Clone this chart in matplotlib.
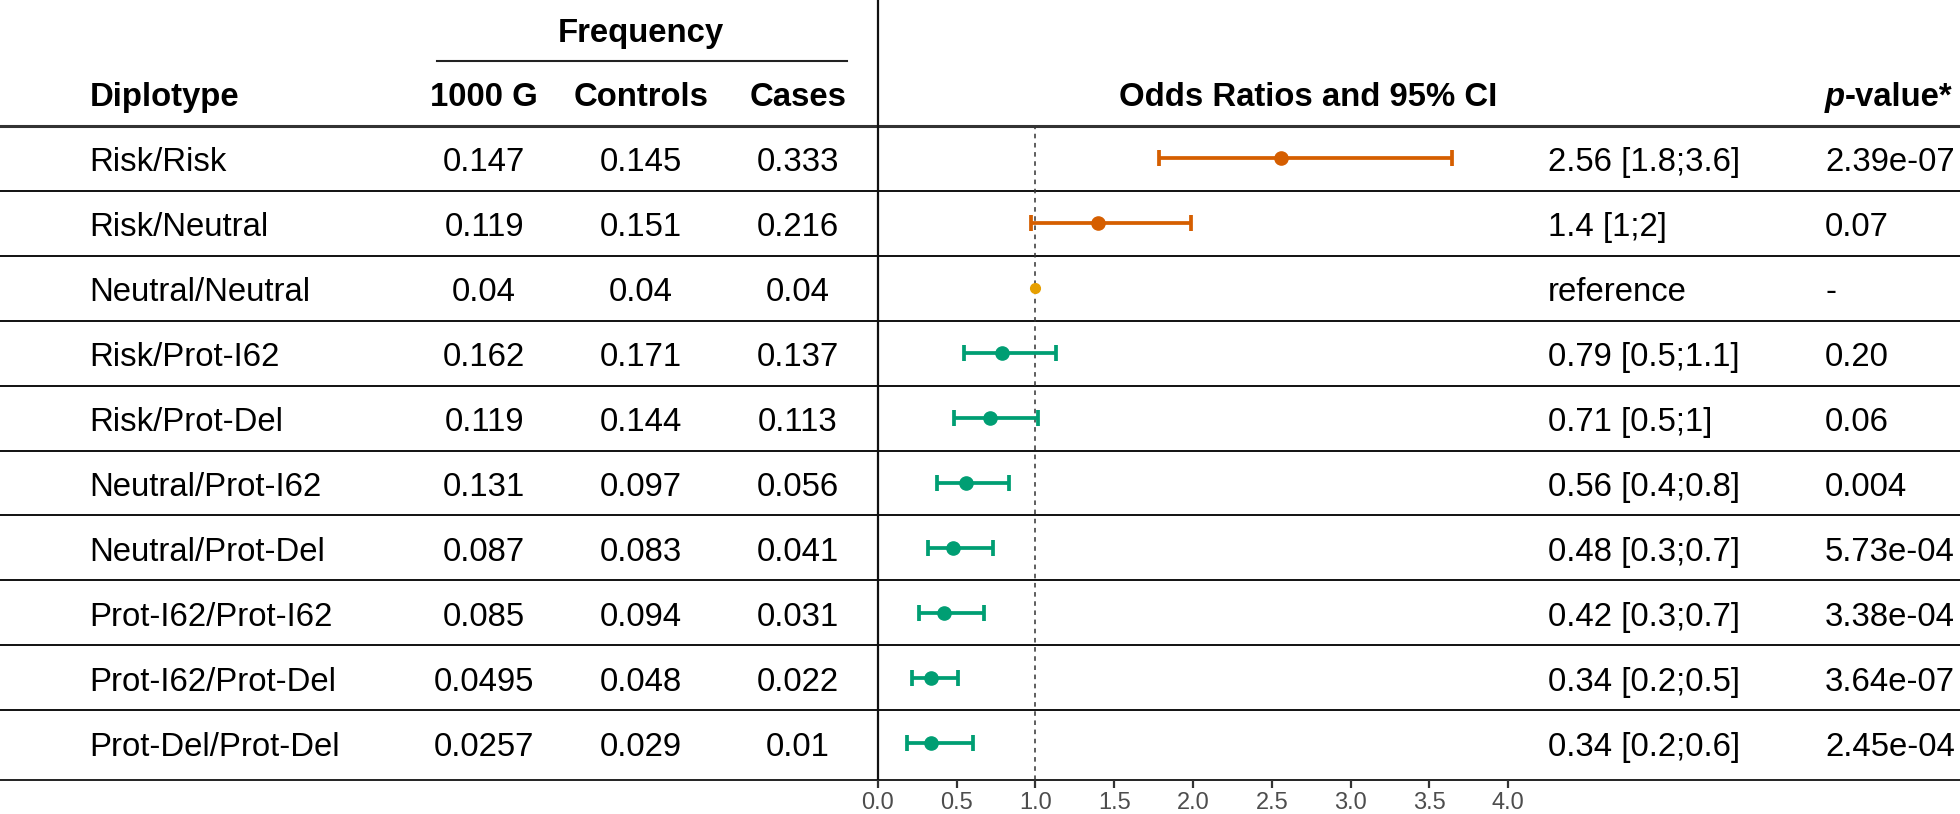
import numpy as np
import matplotlib
matplotlib.use("Agg")
import matplotlib.pyplot as plt
from matplotlib import font_manager

plt.rcParams["font.family"] = ["Liberation Sans", "DejaVu Sans"]

diplotypes = ["Risk/Risk", "Risk/Neutral", "Neutral/Neutral", "Risk/Prot-I62", "Risk/Prot-Del",
              "Neutral/Prot-I62", "Neutral/Prot-Del", "Prot-I62/Prot-I62", "Prot-I62/Prot-Del",
              "Prot-Del/Prot-Del"]
freq_1000g    = [0.147, 0.119, 0.04, 0.162, 0.119, 0.131, 0.087, 0.085, 0.0495, 0.0257]
freq_controls = [0.145, 0.151, 0.04, 0.171, 0.144, 0.097, 0.083, 0.094, 0.048, 0.029]
freq_cases    = [0.333, 0.216, 0.04, 0.137, 0.113, 0.056, 0.041, 0.031, 0.022, 0.01]
odds    = [2.56, 1.4, 1.0, 0.79, 0.71, 0.56, 0.48, 0.42, 0.34, 0.34]
ci_low  = [1.785, 0.972, 1.0, 0.547, 0.484, 0.374, 0.319, 0.26, 0.219, 0.188]
ci_high = [3.645, 1.99, 1.0, 1.129, 1.017, 0.831, 0.733, 0.674, 0.511, 0.607]
or_labels = ["2.56 [1.8;3.6]", "1.4 [1;2]", "reference", "0.79 [0.5;1.1]", "0.71 [0.5;1]",
             "0.56 [0.4;0.8]", "0.48 [0.3;0.7]", "0.42 [0.3;0.7]", "0.34 [0.2;0.5]", "0.34 [0.2;0.6]"]
p_values = ["2.39e-07", "0.07", "-", "0.20", "0.06", "0.004", "5.73e-04", "3.38e-04",
            "3.64e-07", "2.45e-04"]
groups = ["risk", "risk", "ref", "prot", "prot", "prot", "prot", "prot", "prot", "prot"]
colors = {"risk": "#D55E00", "ref": "#E69F00", "prot": "#009E73"}
x_ticks = [0.0, 0.5, 1.0, 1.5, 2.0, 2.5, 3.0, 3.5, 4.0]

# layout in pixels
W, H = 1960, 814
HEAD_Y = 126
ROW_H = 64.9
AXIS_Y = 780
X0 = 877.7          # pixel of OR = 0
UNIT = 157.65       # pixels per OR unit
F_RIGHT = 1530
FS = 23.7

# condensed font for the axis ticks if there is one
names = {f.name for f in font_manager.fontManager.ttflist}
if "Liberation Sans Narrow" in names:
    tick_font, tick_fs = "Liberation Sans Narrow", 20
else:
    tick_font, tick_fs = "Liberation Sans", 17

fig = plt.figure(figsize=(W / 100, H / 100), dpi=100)
ax = fig.add_axes([0, 0, 1, 1])
ax.set_xlim(0, W)
ax.set_ylim(H, 0)
ax.axis("off")

n = len(diplotypes)
row_c = [HEAD_Y + ROW_H / 2 + ROW_H * k for k in range(n)]

# header
ax.text(641, 42, "Frequency", fontsize=FS, fontweight="bold", ha="center", va="baseline")
ax.plot([437, 847], [61, 61], color="#222222", lw=1.5)
ax.text(90, 106, "Diplotype", fontsize=FS, fontweight="bold", ha="left", va="baseline")
ax.text(484, 106, "1000 G", fontsize=FS, fontweight="bold", ha="center", va="baseline")
ax.text(641, 106, "Controls", fontsize=FS, fontweight="bold", ha="center", va="baseline")
ax.text(847, 106, "Cases", fontsize=FS, fontweight="bold", ha="right", va="baseline")
ax.text(1497, 106, "Odds Ratios and 95% CI", fontsize=FS, fontweight="bold", ha="right", va="baseline")
tp = ax.text(1825, 106, "p", fontsize=FS, fontweight="bold", fontstyle="italic", ha="left", va="baseline")
ax.annotate("-value*", xy=(1, 0), xycoords=tp, fontsize=FS, fontweight="bold", ha="left", va="bottom")

# grid lines
ax.plot([0, W], [HEAD_Y, HEAD_Y], color="#333333", lw=2.2)
for k in range(n - 1):
    y = HEAD_Y + ROW_H * (k + 1)
    ax.plot([0, W], [y, y], color="#111111", lw=1.4)
ax.plot([0, W], [AXIS_Y, AXIS_Y], color="#222222", lw=1.4)
ax.plot([X0, X0], [0, AXIS_Y], color="#111111", lw=1.6)

# table body
for k in range(n):
    yb = row_c[k] + 13
    ax.text(89, yb, diplotypes[k], fontsize=FS, ha="left", va="baseline")
    ax.text(484, yb, str(freq_1000g[k]), fontsize=FS, ha="center", va="baseline")
    ax.text(641, yb, str(freq_controls[k]), fontsize=FS, ha="center", va="baseline")
    ax.text(798, yb, str(freq_cases[k]), fontsize=FS, ha="center", va="baseline")
    ax.text(1548, yb, or_labels[k], fontsize=FS, ha="left", va="baseline")
    ax.text(1825, yb, p_values[k], fontsize=FS, ha="left", va="baseline")

# forest panel
axf = fig.add_axes([X0 / W, (H - AXIS_Y) / H, (F_RIGHT - X0) / W, (AXIS_Y - HEAD_Y) / H])
axf.patch.set_alpha(0)
axf.set_xlim(0, (F_RIGHT - X0) / UNIT)
axf.set_ylim((AXIS_Y - row_c[0]) / ROW_H, -0.5)
for s in axf.spines.values():
    s.set_visible(False)
axf.axvline(1.0, color="#333333", lw=1.1, ls=(0, (3, 3)), zorder=1)

ypos = np.arange(n)
for k in range(n):
    c = colors[groups[k]]
    if groups[k] == "ref":
        axf.plot(odds[k], ypos[k], "o", color=c, ms=7, zorder=3)
    else:
        axf.errorbar(odds[k], ypos[k], xerr=[[odds[k] - ci_low[k]], [ci_high[k] - odds[k]]],
                     fmt="o", color=c, ms=9.5, elinewidth=2.7, capsize=5.6, capthick=2.7, zorder=3)

axf.set_yticks([])
axf.set_xticks(x_ticks)
axf.set_xticklabels([f"{t:.1f}" for t in x_ticks], fontsize=tick_fs, color="#4D4D4D",
                    family=[tick_font, "DejaVu Sans"])
axf.tick_params(axis="x", length=5.5, width=1.6, color="#333333", pad=3)

fig.savefig("out.png", dpi=100)
